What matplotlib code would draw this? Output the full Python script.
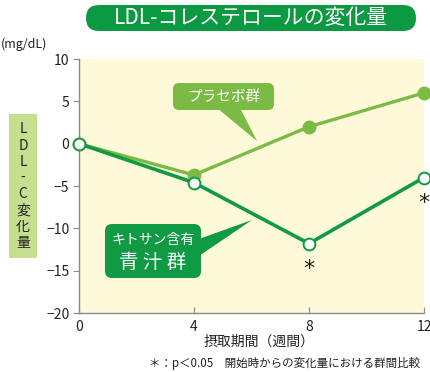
import matplotlib
matplotlib.use("Agg")
import matplotlib.pyplot as plt
from matplotlib.patches import FancyBboxPatch, Polygon

plt.rcParams['font.family'] = ['Noto Sans CJK JP', 'DejaVu Sans']

# Data
weeks = [0, 4, 8, 12]
placebo = [0, -3.7, 2.0, 6.0]
kitosan = [0, -4.6, -11.8, -4.0]
yticks = [10, 5, 0, -5, -10, -15, -20]
ytick_labels = ["10", "5", "0", "−5", "−10", "−15", "−20"]
sig_weeks = [8, 12]
sig_values = [-11.8, -4.0]

W, H = 431, 372
DARK = "#0f9a43"
LIGHT = "#7bbb45"
BG = "#fef9d9"
TEXT = "#222222"

fig = plt.figure(figsize=(W / 100, H / 100), dpi=100)

# Plot area
ax = fig.add_axes([79 / W, 1 - 313 / H, (424 - 79) / W, (313 - 59) / H])
ax.set_facecolor(BG)
ax.set_xlim(0, 12)
ax.set_ylim(-20, 10)
ax.set_xticks(weeks)
ax.set_xticklabels([str(w) for w in weeks], fontsize=10, color=TEXT)
ax.set_yticks(yticks)
ax.set_yticklabels(ytick_labels, fontsize=10, color=TEXT)
for s in ["top", "right"]:
    ax.spines[s].set_visible(False)
for s in ["left", "bottom"]:
    ax.spines[s].set_color("#8a8a8a")
    ax.spines[s].set_linewidth(1.0)
ax.tick_params(axis="y", direction="out", length=4, color="#8a8a8a", pad=3)
ax.tick_params(axis="x", direction="in", length=4, color="#8a8a8a", pad=5)

ax.plot(weeks, placebo, color=LIGHT, lw=2.4, marker="o", ms=9,
        mfc=LIGHT, mec=LIGHT, clip_on=False, zorder=3)
ax.plot(weeks, kitosan, color=DARK, lw=2.6, marker="o", ms=8.5,
        mfc="white", mec=DARK, mew=1.4, clip_on=False, zorder=4)

for wk, v in zip(sig_weeks, sig_values):
    ax.annotate("*", (wk, v), xytext=(0, -11), textcoords="offset points",
                ha="center", va="top", fontsize=16, color=TEXT,
                family="DejaVu Sans", annotation_clip=False)

# Overlay in pixel units for the decorations
ov = fig.add_axes([0, 0, 1, 1], facecolor="none")
ov.set_xlim(0, W)
ov.set_ylim(H, 0)
ov.axis("off")

ov.text(259, 342, "摂取期間（週間）", ha="center", va="center", fontsize=10, color=TEXT)

# Title banner (pill shape)
ov.add_patch(FancyBboxPatch((86, 5), 330, 26, boxstyle="round,pad=0,rounding_size=13",
                            fc="#0b9a41", ec="none"))
ov.text(251, 18.5, "LDL-コレステロールの変化量", ha="center", va="center",
        fontsize=15, color="white")

ov.text(1, 44, "(mg/dL)", ha="left", va="center", fontsize=9, color=TEXT)

# Y label box
ov.add_patch(plt.Rectangle((9, 114), 28, 144, fc="#c6df8f", ec="none"))
ov.text(23, 186, "L\nD\nL\n-\nC\n変\n化\n量", ha="center", va="center",
        fontsize=10, color=TEXT, linespacing=1.2)

# Placebo callout
ov.add_patch(Polygon([(217, 108), (240, 108), (257, 141)], closed=True,
                     fc=LIGHT, ec="none"))
ov.add_patch(FancyBboxPatch((173, 83), 101, 27, boxstyle="round,pad=0,rounding_size=6",
                            fc=LIGHT, ec="none"))
ov.text(224, 96.5, "プラセボ群", ha="center", va="center", fontsize=10.5, color="white")

# Kitosan callout
ov.add_patch(Polygon([(196, 240), (196, 258), (252, 220)], closed=True,
                     fc=DARK, ec="none"))
ov.add_patch(FancyBboxPatch((105, 224), 96, 54, boxstyle="round,pad=0,rounding_size=7",
                            fc=DARK, ec="none"))
ov.text(153, 240, "キトサン含有", ha="center", va="center", fontsize=10, color="white")
ov.text(153, 263, "青 汁 群", ha="center", va="center", fontsize=14, color="white")

ov.text(420, 363, "＊：p＜0.05　開始時からの変化量における群間比較", ha="right",
        va="center", fontsize=8.3, color=TEXT)

fig.savefig("out.png", dpi=100)
